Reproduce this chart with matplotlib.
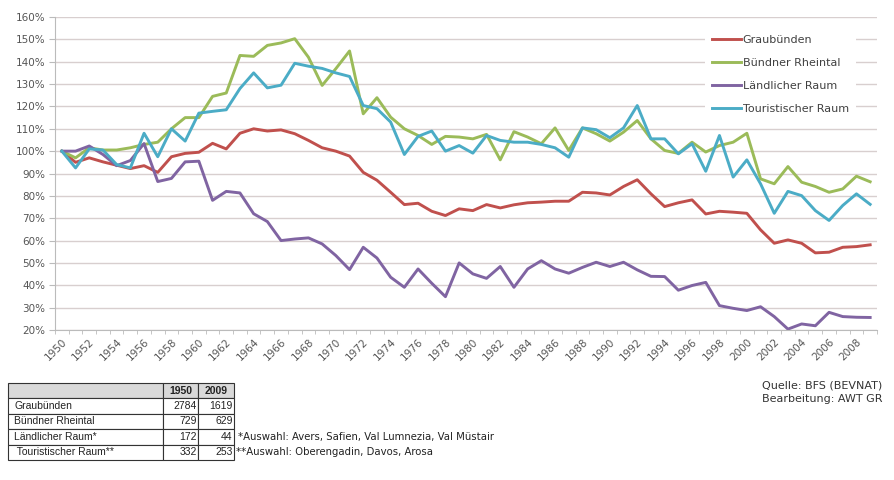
import numpy as np
import matplotlib.pyplot as plt
from matplotlib.ticker import FuncFormatter

plt.rcParams['font.family'] = ['DejaVu Sans']

years = np.arange(1950, 2010)

# Index 1950 = 100 %
graubuenden = [100, 95, 97, 95.2, 93.7, 92.2, 93.5, 90.5, 97.5, 99,
               99.5, 103.5, 101, 108, 110, 109, 109.5, 107.8, 104.8, 101.5,
               100, 97.8, 90.5, 87, 81.6, 76.1, 76.7, 73.1, 71.2, 74.2,
               73.4, 76.1, 74.6, 76, 76.9, 77.2, 77.6, 77.6, 81.6, 81.3,
               80.4, 84.2, 87.2, 80.9, 75.2, 76.9, 78.2, 71.9, 73.1, 72.7,
               72.2, 64.8, 58.8, 60.3, 58.8, 54.5, 54.8, 57, 57.3, 58.1]
rheintal = [100, 97, 101.5, 100.5, 100.5, 101.5, 103, 104, 110, 115,
            115, 124.5, 126, 142.8, 142.4, 147.3, 148.4, 150.3, 142, 129.4,
            136.9, 144.8, 116.7, 123.9, 115.2, 110, 107, 103, 106.6, 106.3,
            105.5, 107.5, 96.1, 108.7, 106.3, 103.3, 110.4, 100.3, 110.4, 107.8,
            104.5, 108.5, 113.7, 105.5, 100.3, 99, 104, 99.6, 102.5, 104,
            108, 87.6, 85.4, 93.1, 86.1, 84.2, 81.6, 83.1, 88.8, 86.3]
laendlich = [100, 100, 102.3, 98.5, 93.5, 95.8, 103.4, 86.4, 87.8, 95.2,
             95.5, 78, 82, 81.3, 72, 68.5, 60, 60.7, 61.2, 58.5,
             53.3, 47, 57, 52.2, 43.6, 39.1, 47.3, 40.9, 34.9, 50,
             45.1, 43.1, 48.4, 39.1, 47.3, 51, 47.3, 45.4, 48, 50.3,
             48.4, 50.3, 46.9, 44, 43.9, 37.8, 39.9, 41.3, 30.9, 29.7,
             28.7, 30.4, 26, 20.4, 22.7, 21.9, 27.9, 26, 25.7, 25.6]
touristisch = [100, 92.5, 101, 100.5, 94, 92.5, 108, 97.5, 110, 104.5,
               117, 117.8, 118.5, 128, 135, 128.3, 129.5, 139.3, 138, 137,
               135, 133.4, 120.4, 119, 113, 98.5, 106.6, 109, 100, 102.5,
               99.1, 107, 104.8, 104, 104, 103, 101.5, 97.3, 110.4, 109.6,
               106, 110.4, 120.4, 105.5, 105.5, 98.8, 103.3, 91, 107, 88.4,
               96.1, 85.4, 72.2, 82, 80.1, 73.4, 69, 75.7, 80.9, 76.2]

names = ['Graubünden', 'Bündner Rheintal', 'Ländlicher Raum', 'Touristischer Raum']
colors = ['#C0504D', '#9BBB59', '#8064A2', '#4BACC6']

# table below the chart
row_labels = ['Graubünden', 'Bündner Rheintal', 'Ländlicher Raum*', ' Touristischer Raum**']
births_1950 = [2784, 729, 172, 332]
births_2009 = [1619, 629, 44, 253]

fig = plt.figure(figsize=(8.94, 4.8), dpi=100)
ax = fig.add_axes([55/894, 150/480, 822/894, 313/480])

for vals, name, c in zip([graubuenden, rheintal, laendlich, touristisch], names, colors):
    ax.plot(years, vals, color=c, lw=2.1, label=name, solid_joinstyle='round')

ax.set_xlim(1949.5, 2009.5)
ax.set_ylim(20, 160)
ax.set_yticks(range(20, 161, 10))
ax.yaxis.set_major_formatter(FuncFormatter(lambda v, p: f"{v:.0f}%"))
ax.yaxis.grid(True, color='#d8cfcf', lw=1)
ax.set_axisbelow(True)

ax.set_xticks(years[::2])
ax.set_xticks(np.arange(1949.5, 2010, 1), minor=True)
ax.tick_params(axis='x', which='major', length=0, labelsize=7.5, labelcolor='#555555', pad=5)
ax.tick_params(axis='x', which='minor', length=3, color='#bbbbbb')
plt.setp(ax.get_xticklabels(), rotation=45, ha='right', rotation_mode='anchor')
ax.tick_params(axis='y', length=4, color='#bbbbbb', labelsize=7.5, labelcolor='#555555', pad=3)
for s in ['top', 'right']:
    ax.spines[s].set_visible(False)
ax.spines['left'].set_color('#bbbbbb')
ax.spines['bottom'].set_color('#bbbbbb')

leg = ax.legend(loc='upper left', bbox_to_anchor=(705/894, 1 - 28.5/480),
                bbox_transform=fig.transFigure, frameon=True, fancybox=False,
                edgecolor='none', framealpha=1, fontsize=8, handlelength=2.6,
                handletextpad=0.2, labelspacing=1.16, borderpad=0.6, borderaxespad=0)
for t in leg.get_texts():
    t.set_color('#404040')

tab_ax = fig.add_axes([8/894, 20/480, 226/894, 77/480])
tab_ax.axis('off')
cell_text = [[r, str(a), str(b)] for r, a, b in zip(row_labels, births_1950, births_2009)]
tbl = tab_ax.table(cellText=cell_text, colLabels=['', '1950', '2009'],
                   bbox=[0, 0, 1, 1], colWidths=[155, 35, 36], cellLoc='right')
tbl.auto_set_font_size(False)
tbl.set_fontsize(7.5)
for (r, c), cell in tbl.get_celld().items():
    cell.set_linewidth(0.8)
    cell.set_edgecolor('#333333')
    cell.PAD = 0.04
    txt = cell.get_text()
    txt.set_color('#222222')
    txt.set_fontfamily(['Liberation Sans', 'DejaVu Sans'])
    if r == 0:
        cell.set_facecolor('#d9d9d9')
        txt.set_fontweight('bold')
        cell._loc = 'center'
        txt.set_ha('center')
    elif c == 0:
        cell._loc = 'left'
        txt.set_ha('left')

fig.text(238/894, 1 - 437/480, '*Auswahl: Avers, Safien, Val Lumnezia, Val Müstair',
         fontsize=7.3, va='center', color='#222222')
fig.text(236/894, 1 - 452/480, '**Auswahl: Oberengadin, Davos, Arosa',
         fontsize=7.3, va='center', color='#222222')
fig.text(762/894, 1 - 385/480, 'Quelle: BFS (BEVNAT)', fontsize=8, va='center', color='#333333')
fig.text(762/894, 1 - 399/480, 'Bearbeitung: AWT GR', fontsize=8, va='center', color='#333333')

fig.savefig('out.png', dpi=100)
